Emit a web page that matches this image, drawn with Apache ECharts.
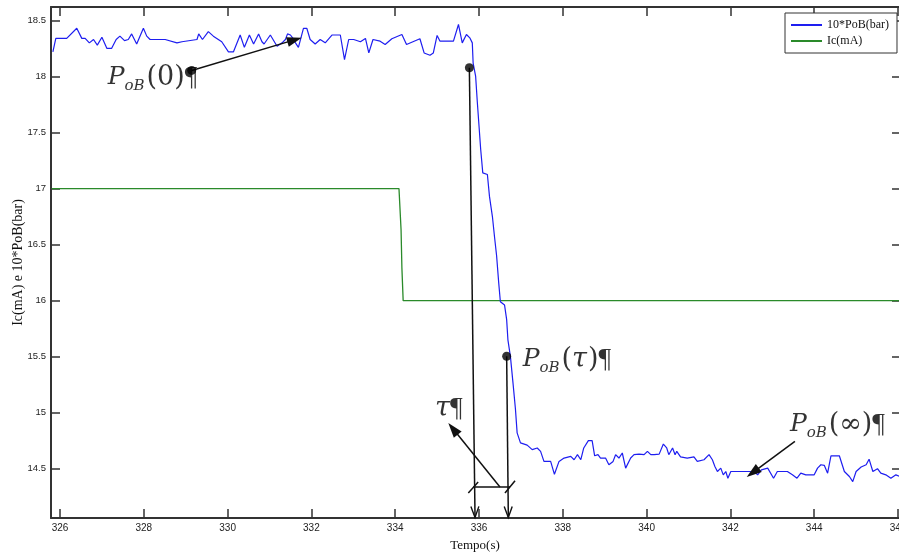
<!DOCTYPE html>
<html><head><meta charset="utf-8">
<script src="https://cdn.jsdelivr.net/npm/echarts@6/dist/echarts.min.js"></script>
<style>html,body{margin:0;padding:0;background:#fff}#c{width:899px;height:556px}</style>
</head><body><div id="c"></div>
<script>
// 10*PoB(bar) series
const pobTime = [325.83,325.90,326.16,326.40,326.52,326.60,326.70,326.80,326.89,327.00,327.12,327.23,327.34,327.43,327.54,327.63,327.71,327.83,327.99,328.07,328.15,328.51,328.79,328.91,329.27,329.31,329.40,329.54,329.66,329.86,330.02,330.14,330.30,330.40,330.52,330.62,330.74,330.82,330.87,331.02,331.18,331.30,331.38,331.43,331.50,331.56,331.62,331.69,331.81,331.89,331.97,332.09,332.21,332.33,332.49,332.69,332.79,332.89,333.01,333.17,333.29,333.37,333.47,333.64,333.76,333.92,334.16,334.27,334.59,334.69,334.83,334.91,335.00,335.07,335.39,335.51,335.60,335.70,335.78,335.84,335.86,335.92,335.96,336.00,336.04,336.09,336.20,336.25,336.32,336.37,336.42,336.47,336.51,336.61,336.66,336.69,336.75,336.81,336.87,336.91,336.99,337.15,337.27,337.39,337.47,337.55,337.71,337.80,337.91,338.03,338.19,338.27,338.35,338.43,338.50,338.61,338.70,338.76,338.84,338.90,339.02,339.10,339.20,339.26,339.34,339.42,339.50,339.62,339.70,339.82,339.94,340.02,340.10,340.18,340.30,340.40,340.48,340.53,340.62,340.68,340.72,340.81,340.97,341.13,341.21,341.37,341.49,341.57,341.63,341.69,341.77,341.83,341.89,341.94,342.01,342.57,342.65,342.74,342.89,343.03,343.12,343.36,343.48,343.59,343.68,343.80,344.00,344.08,344.16,344.24,344.32,344.40,344.60,344.72,344.84,344.92,345.00,345.12,345.24,345.31,345.40,345.51,345.59,345.71,345.83,345.95,346.05];
const pobValue = [18.22,18.34,18.34,18.43,18.34,18.34,18.30,18.33,18.28,18.35,18.25,18.25,18.33,18.36,18.32,18.33,18.38,18.29,18.43,18.36,18.33,18.33,18.30,18.31,18.33,18.38,18.33,18.40,18.36,18.31,18.22,18.22,18.37,18.26,18.37,18.29,18.38,18.31,18.29,18.37,18.27,18.30,18.33,18.38,18.37,18.34,18.30,18.26,18.43,18.43,18.33,18.29,18.33,18.30,18.37,18.37,18.15,18.33,18.33,18.31,18.34,18.21,18.33,18.315,18.286,18.337,18.375,18.286,18.337,18.21,18.19,18.21,18.366,18.315,18.315,18.464,18.30,18.375,18.345,18.30,18.12,18.00,17.77,17.56,17.35,17.14,17.125,16.93,16.75,16.57,16.40,16.16,15.99,15.96,15.83,15.65,15.50,15.27,15.03,14.82,14.73,14.71,14.67,14.685,14.655,14.565,14.565,14.45,14.565,14.595,14.61,14.58,14.625,14.58,14.685,14.75,14.75,14.615,14.625,14.595,14.595,14.535,14.565,14.625,14.595,14.64,14.505,14.595,14.625,14.63,14.625,14.655,14.625,14.625,14.63,14.72,14.685,14.625,14.685,14.625,14.655,14.605,14.595,14.605,14.565,14.58,14.625,14.58,14.52,14.475,14.505,14.445,14.475,14.415,14.475,14.475,14.445,14.49,14.505,14.415,14.475,14.475,14.445,14.415,14.46,14.445,14.445,14.505,14.535,14.53,14.46,14.615,14.615,14.475,14.43,14.385,14.475,14.515,14.535,14.585,14.475,14.50,14.46,14.445,14.415,14.445,14.43];
// Ic(mA) series
const icTime = [325.80,334.09,334.14,334.16,334.19,346.05];
const icValue = [17,17,16.63,16.29,16,16];
// axis ticks
const xTicks = [326,328,330,332,334,336,338,340,342,344,346];
const yTicks = [14.5,15,15.5,16,16.5,17,17.5,18,18.5];
// annotation markers (data coordinates)
const markerPoints = [[329.143,18.054],[335.77,18.078],[336.66,15.503]];
// [t1, v1, t2, v2, head]  head: 0 none, 1 filled arrow, 2 open arrow
const annotationLines = [
  [329.143,18.054,331.77,18.346,1],
  [335.77,18.078,335.905,14.065,2],
  [336.66,15.503,336.70,14.065,2],
  [336.50,14.337,335.267,14.908,1],
  [343.54,14.744,342.39,14.426,1],
  [335.864,14.337,336.74,14.337,0],
  [335.745,14.283,335.98,14.381,0],
  [336.62,14.283,336.86,14.393,0]
];
const annotationPos = [[327.138,17.988],[337.043,15.473],[334.95,15.036],[343.42,14.893]];
const annotationText = ['{p|P}{s|oB}{n|(0)}{q|¶}','{p|P}{s|oB}{n|(}{t|τ}{n|)}{q|¶}','{t|τ}{q|¶}','{p|P}{s|oB}{n|(∞)}{q|¶}'];

const zip = (a,b)=>a.map((x,i)=>[x,b[i]]);
const X0 = 325.785, X1 = 346.024, Y0 = 14.06, Y1 = 18.62;
const AX = '#333';

function renderArrow(params, api){
  const a = api.coord([api.value(0), api.value(1)]);
  const b = api.coord([api.value(2), api.value(3)]);
  const kind = api.value(4);
  const dx=b[0]-a[0], dy=b[1]-a[1];
  const len=Math.hypot(dx,dy)||1;
  const ux=dx/len, uy=dy/len, nx=-uy, ny=ux;
  const children=[];
  let end=b;
  if(kind===1){
    const L=15,W=10;
    const bx=b[0]-ux*L, by=b[1]-uy*L;
    children.push({type:'polygon',shape:{points:[[b[0],b[1]],[bx+nx*W/2,by+ny*W/2],[bx-nx*W/2,by-ny*W/2]]},style:{fill:'#111'}});
    end=[b[0]-ux*L*0.8,b[1]-uy*L*0.8];
  } else if(kind===2){
    const L=11,W=8;
    const bx=b[0]-ux*L, by=b[1]-uy*L;
    children.push({type:'polyline',shape:{points:[[bx+nx*W/2,by+ny*W/2],[b[0],b[1]],[bx-nx*W/2,by-ny*W/2]]},style:{stroke:'#111',lineWidth:1.4,fill:'none'}});
  }
  children.unshift({type:'line',shape:{x1:a[0],y1:a[1],x2:end[0],y2:end[1]},style:{stroke:'#111',lineWidth:1.5}});
  return {type:'group',children};
}

const serifMath = 'DejaVu Serif';
const TXT = '#000';
const chart = echarts.init(document.getElementById('c'), null, {renderer:'canvas'});
chart.setOption({
  animation:false,
  backgroundColor:'#fff',
  grid:{left:51,right:0,top:7,bottom:38,containLabel:false,outerBoundsMode:'none'},
  legend:{
    data:['10*PoB(bar)','Ic(mA)'],
    orient:'vertical', left:785, top:13,
    itemWidth:31, itemHeight:2, itemGap:4, icon:'rect',
    padding:[6,8,6,6],
    borderColor:'#333', borderWidth:1, backgroundColor:'#fff',
    textStyle:{fontFamily:'Liberation Serif',fontSize:12,color:'#111'}
  },
  xAxis:[{
    type:'value', min:X0, max:X1, position:'bottom',
    name:'Tempo(s)', nameLocation:'middle', nameGap:21, nameMoveOverlap:false,
    nameTextStyle:{fontFamily:'Liberation Serif',fontSize:13,color:'#111'},
    axisLine:{show:true,onZero:false,lineStyle:{color:AX,width:2}},
    axisTick:{show:true,inside:true,length:9,customValues:xTicks,lineStyle:{color:AX,width:1.5}},
    axisLabel:{show:true,customValues:xTicks,margin:5,fontFamily:'Liberation Sans',fontSize:10,color:'#222',formatter:v=>String(v)},
    splitLine:{show:false}
  },{
    type:'value', min:X0, max:X1, position:'top',
    axisLine:{show:true,onZero:false,lineStyle:{color:AX,width:2}},
    axisTick:{show:true,inside:true,length:9,customValues:xTicks,lineStyle:{color:AX,width:1.5}},
    axisLabel:{show:false}, splitLine:{show:false}
  }],
  yAxis:[{
    type:'value', min:Y0, max:Y1, position:'left',
    name:'Ic(mA) e 10*PoB(bar)', nameLocation:'middle', nameGap:26, nameRotate:90, nameMoveOverlap:false,
    nameTextStyle:{fontFamily:'Liberation Serif',fontSize:14,color:'#111'},
    axisLine:{show:true,onZero:false,lineStyle:{color:AX,width:2}},
    axisTick:{show:true,inside:true,length:9,customValues:yTicks,lineStyle:{color:AX,width:1.5}},
    axisLabel:{show:true,customValues:yTicks,margin:5,fontFamily:'Liberation Sans',fontSize:9.5,color:'#222',formatter:v=>String(v)},
    splitLine:{show:false}
  },{
    type:'value', min:Y0, max:Y1, position:'right',
    axisLine:{show:false,onZero:false},
    axisTick:{show:true,inside:true,length:7,customValues:yTicks,lineStyle:{color:AX,width:1.5}},
    axisLabel:{show:false}, splitLine:{show:false}
  }],
  series:[{
    name:'10*PoB(bar)', type:'line', data:zip(pobTime,pobValue),
    symbol:'none', showSymbol:false, color:'#1e1ef0',
    lineStyle:{color:'#1e1ef0',width:1.2}, z:3
  },{
    name:'Ic(mA)', type:'line', data:zip(icTime,icValue),
    symbol:'none', showSymbol:false, color:'#2a8a2a',
    lineStyle:{color:'#2a8a2a',width:1.3}, z:2
  },{
    name:'arrows', type:'custom', renderItem:renderArrow,
    data:annotationLines, encode:{x:[0,2],y:[1,3]}, clip:false, silent:true, z:10
  },{
    name:'dots', type:'scatter', data:markerPoints, symbolSize:9,
    itemStyle:{color:'#000'}, silent:true, z:11
  },{
    name:'labels', type:'scatter', symbolSize:0, silent:true, z:12,
    data:annotationPos.map((p,i)=>({value:p,name:annotationText[i]})),
    label:{show:true,position:'right',distance:0,formatter:p=>p.name,
      rich:{
        p:{fontFamily:serifMath,fontStyle:'italic',fontSize:25,color:TXT},
        s:{fontFamily:serifMath,fontStyle:'italic',fontSize:15,color:TXT,padding:[16,1,0,0]},
        n:{fontFamily:serifMath,fontSize:27,color:TXT,padding:[0,0,0,1]},
        t:{fontFamily:serifMath,fontStyle:'italic',fontSize:27,color:TXT},
        q:{fontFamily:'Liberation Serif',fontSize:28,color:TXT,padding:[0,0,0,0]}
      }}
  }]
});
</script></body></html>
